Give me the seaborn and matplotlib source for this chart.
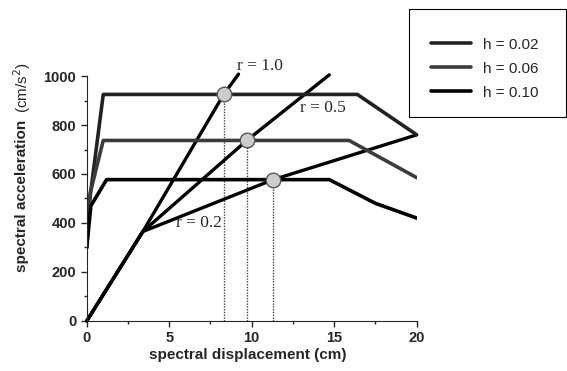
import numpy as np
import pandas as pd
import seaborn as sns
import matplotlib.pyplot as plt
from matplotlib.patches import Rectangle
from matplotlib.ticker import MultipleLocator

# demand spectra (spectral displacement cm, spectral acceleration cm/s2)
h_labels = ["h = 0.02", "h = 0.06", "h = 0.10"]
sd_h002 = [0, 0.15, 1.0, 16.4, 20]
sa_h002 = [300, 480, 925, 925, 760]
sd_h006 = [0, 0.2, 1.0, 15.9, 20]
sa_h006 = [300, 520, 737, 737, 585]
sd_h010 = [0, 0.25, 1.2, 14.7, 17.5, 20]
sa_h010 = [300, 470, 577, 577, 480, 420]

# capacity curves
r_labels = ["r = 1.0", "r = 0.5", "r = 0.2"]
sd_r10 = [0, 3.4, 8.3, 9.2]
sa_r10 = [0, 365, 925, 1008]
sd_r05 = [0, 3.4, 9.7, 14.7]
sa_r05 = [0, 365, 737, 1005]
sd_r02 = [0, 3.4, 11.3, 20]
sa_r02 = [0, 365, 577, 760]

# performance points
perf_sd = [8.3, 9.7, 11.3]
perf_sa = [925, 737, 577]

sns.set_style("ticks")
plt.rcParams["font.family"] = ["Liberation Sans", "DejaVu Sans"]

spec = pd.concat([
    pd.DataFrame({"sd": sd_h002, "sa": sa_h002, "h": h_labels[0]}),
    pd.DataFrame({"sd": sd_h006, "sa": sa_h006, "h": h_labels[1]}),
    pd.DataFrame({"sd": sd_h010, "sa": sa_h010, "h": h_labels[2]}),
], ignore_index=True)
cap = pd.concat([
    pd.DataFrame({"sd": sd_r10, "sa": sa_r10, "r": r_labels[0]}),
    pd.DataFrame({"sd": sd_r05, "sa": sa_r05, "r": r_labels[1]}),
    pd.DataFrame({"sd": sd_r02, "sa": sa_r02, "r": r_labels[2]}),
], ignore_index=True)
perf = pd.DataFrame({"sd": perf_sd, "sa": perf_sa})

fig = plt.figure(figsize=(5.67, 3.71), dpi=100)
ax = fig.add_axes([0.153, 0.135, 0.582, 0.66])

ax.vlines(perf["sd"], 0, perf["sa"], colors="#444444", linestyles=(0, (1, 1)), linewidth=1.0)

sns.lineplot(data=cap, x="sd", y="sa", units="r", estimator=None, sort=False,
             color="black", linewidth=2.4, legend=False, ax=ax, clip_on=False)
sns.lineplot(data=spec, x="sd", y="sa", hue="h", estimator=None, sort=False,
             palette=["#222222", "#3c3c3c", "#000000"], linewidth=2.6, ax=ax)
sns.scatterplot(data=perf, x="sd", y="sa", s=110, color="#cccccc",
                edgecolor="#555555", linewidth=1.0, zorder=5, ax=ax)

ax.set_xlim(0, 20)
ax.set_ylim(0, 1000)
ax.xaxis.set_major_locator(MultipleLocator(5))
ax.xaxis.set_minor_locator(MultipleLocator(2.5))
ax.yaxis.set_major_locator(MultipleLocator(200))
ax.yaxis.set_minor_locator(MultipleLocator(100))
ax.tick_params(which="major", direction="out", length=4, width=1, labelsize=10.5)
ax.tick_params(which="minor", direction="out", length=2.5, width=1)
for lab in ax.get_xticklabels() + ax.get_yticklabels():
    lab.set_fontweight("bold")
sns.despine(ax=ax)
ax.set_xlabel("")
ax.set_ylabel("")

ax.text(9.1, 1040, r_labels[0], family="Liberation Serif", fontsize=12.5, va="center")
ax.text(12.9, 870, r_labels[1], family="Liberation Serif", fontsize=12.5, va="center")
ax.text(5.4, 400, r_labels[2], family="Liberation Serif", fontsize=12.5, va="center")

fig.text(0.437, 0.043, "spectral displacement (cm)", ha="center", va="center",
         fontsize=11, fontweight="bold")
fig.text(0.039, 0.472, "spectral acceleration", rotation=90, ha="center", va="center",
         fontsize=11, fontweight="bold")
fig.text(0.039, 0.763, "(cm/s$^2$)", rotation=90, ha="center", va="center", fontsize=11)

leg = ax.legend(loc="center", bbox_to_anchor=(0.855, 0.815), bbox_transform=fig.transFigure,
                frameon=False, fontsize=11, handlelength=2.6, labelspacing=0.65, title=None)
fig.patches.append(Rectangle((409 / 567, 1 - 117 / 371), 157 / 567, 108 / 371,
                             transform=fig.transFigure, fill=False, lw=0.8, ec="black"))

fig.savefig("out.png", dpi=100)
